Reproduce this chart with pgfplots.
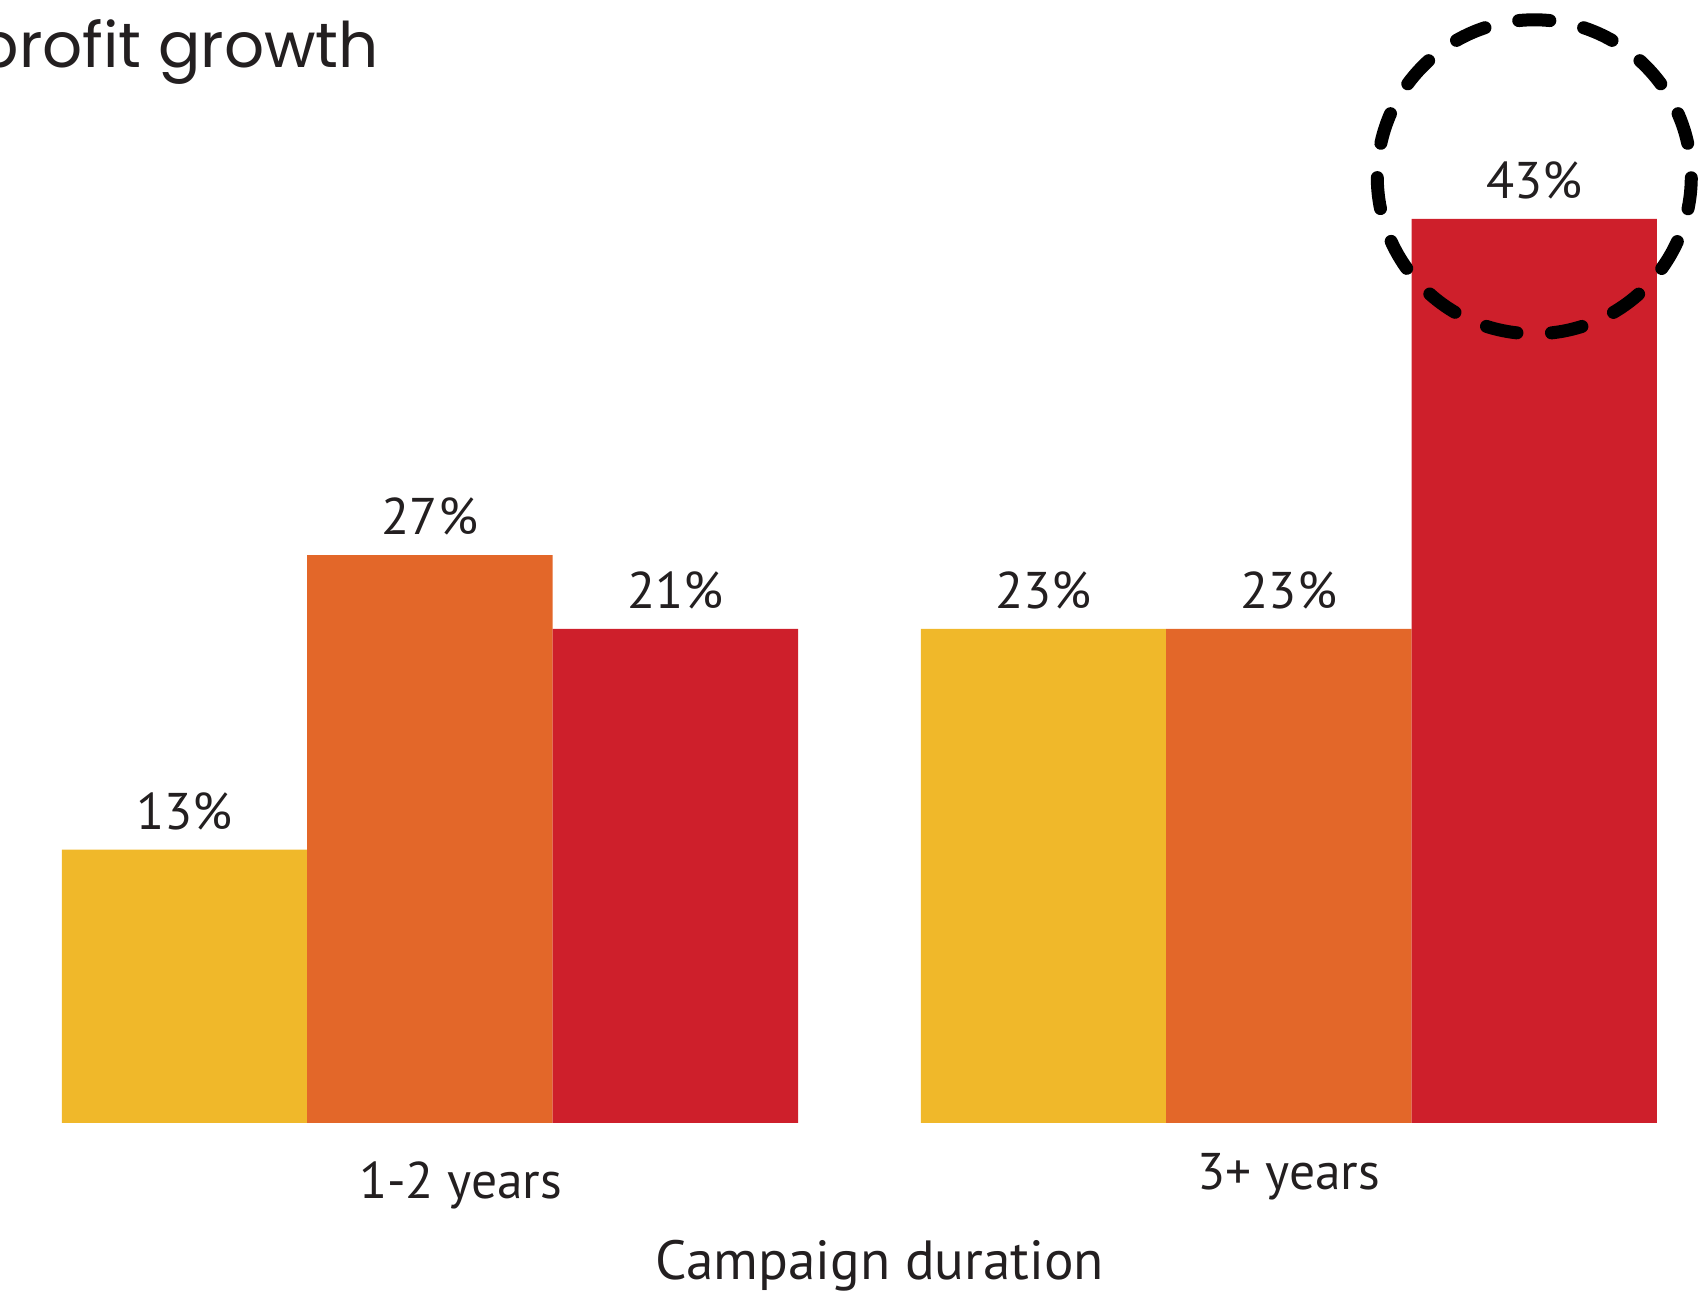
\documentclass[border=0pt]{standalone}
\usepackage{fontspec}
\setmainfont{PT Sans}
\newfontfamily\titlefont{Poppins}
\usepackage{pgfplots}
\pgfplotsset{compat=1.18}

\definecolor{cyellow}{RGB}{240,184,42}
\definecolor{corange}{RGB}{227,103,41}
\definecolor{cred}{RGB}{206,31,43}
\definecolor{ctext}{RGB}{35,31,32}

\begin{document}
\begin{tikzpicture}
\begin{axis}[
    at={(0,0)}, anchor=south west,
    scale only axis,
    width=398.8pt, height=236.5pt,
    xmin=-0.5, xmax=6.0,
    ymin=0, ymax=45,
    axis lines=none,
    clip=false,
    ybar,
    bar width=1,
    point meta=explicit symbolic,
    nodes near coords,
    every node near coord/.append style={font=\fontsize{12.9}{15}\selectfont, text=ctext, inner sep=0pt, yshift=4.75pt},
  ]
  \addplot[fill=cyellow, draw=none, bar shift=0pt] coordinates {(0,13) [13\%] (3.5,23.5) [23\%]};
  \addplot[fill=corange, draw=none, bar shift=0pt] coordinates {(1,27) [27\%] (4.5,23.5) [23\%]};
  \addplot[fill=cred, draw=none, bar shift=0pt] coordinates {(2,23.5) [21\%] (5.5,43) [43\%]};

  % dashed ring round the 43% bar
  \draw[line width=3.25pt, line cap=round, dash pattern=on 7.8pt off 8.64pt, dash phase=8pt]
    (axis cs:5.5,45) circle[radius=39.25pt];

  \path[font=\fontsize{12.9}{15}\selectfont, text=ctext]
    (axis cs:1.125,0) node[anchor=base, yshift=-18.85pt] {1-2 years}
    (axis cs:4.5,0) node[anchor=base, yshift=-16.7pt] {3+ years};
  \node[anchor=base, yshift=-39.15pt, text=ctext, font=\fontsize{13.8}{16}\selectfont]
    at (axis cs:2.834,0) {Campaign duration};
\end{axis}
\node[anchor=base east, inner sep=0pt, text=ctext, font=\titlefont\fontsize{15.7}{18}\selectfont] at (79.5pt,263.9pt) {profit growth};
\pgfresetboundingbox
\useasboundingbox (-15.45pt,-42.8pt) rectangle (409.3pt,280.7pt);
\end{tikzpicture}
\end{document}
